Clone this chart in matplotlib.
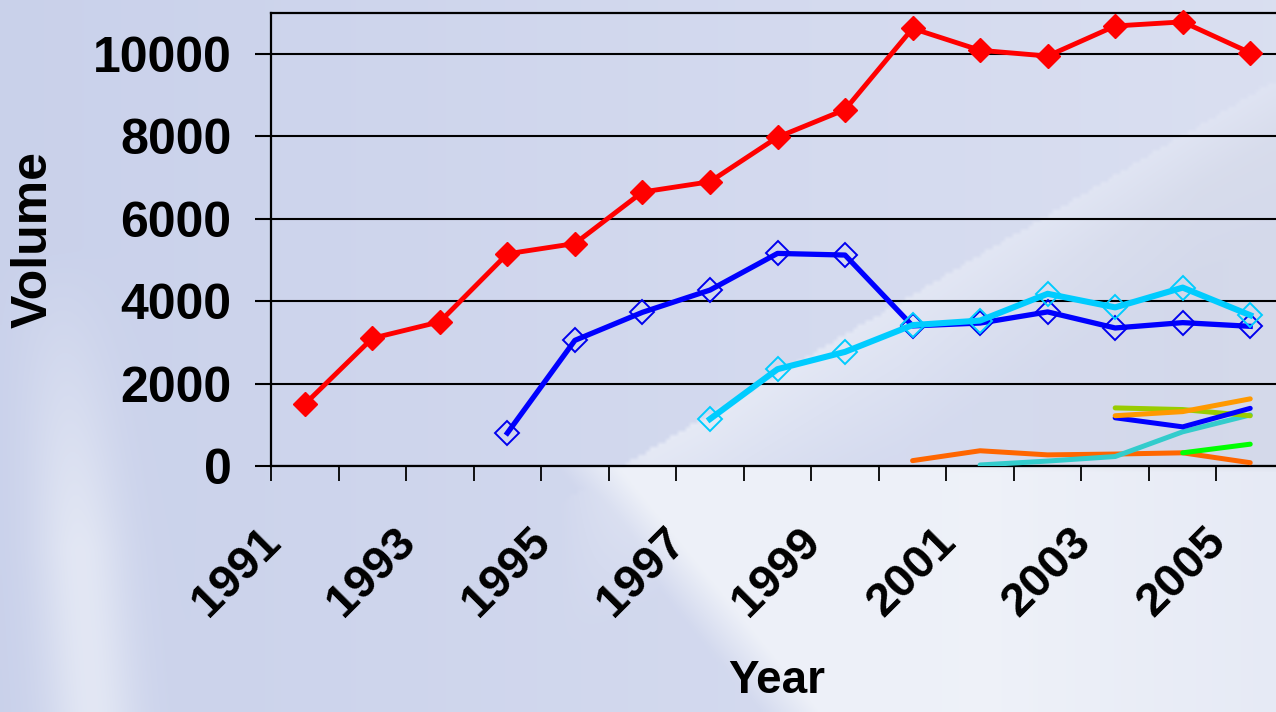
import numpy as np
import matplotlib
matplotlib.use("Agg")
import matplotlib.pyplot as plt
from matplotlib import transforms

nan = np.nan
years = list(range(1991, 2006))
y_ticks = [0, 2000, 4000, 6000, 8000, 10000]

series_red = [1500, 3100, 3500, 5150, 5400, 6650, 6900, 7980, 8650, 10620,
              10090, 9950, 10680, 10780, 10030]
series_blue = [nan, nan, nan, 800, 3050, 3730, 4270, 5160, 5120, 3400,
               3470, 3740, 3350, 3480, 3390]
series_sky = [nan, nan, nan, nan, nan, nan, 1140, 2350, 2770, 3420,
              3530, 4180, 3850, 4330, 3660]
series_orange_red = [nan] * 9 + [130, 370, 270, 290, 320, 80]
series_turquoise = [nan] * 10 + [25, 120, 230, 830, 1240]
series_yellowgreen = [nan] * 12 + [1410, 1370, 1220]
series_orange = [nan] * 12 + [1220, 1320, 1630]
series_blue2 = [nan] * 12 + [1170, 950, 1400]
series_green = [nan] * 13 + [320, 530]

plt.rcParams['font.family'] = ['Liberation Sans', 'DejaVu Sans']
plt.rcParams['font.weight'] = 'bold'

W, H = 1276, 712
fig = plt.figure(figsize=(W / 100, H / 100), dpi=100)

# ---- background (decorative gradient) ----
xs = np.linspace(0, W, 320)
ys = np.linspace(0, H, 180)
X, Y = np.meshgrid(xs, ys)
c_left = np.array([0.79, 0.82, 0.92])
c_right = np.array([0.855, 0.875, 0.945])
t = (X / W)[..., None]
img = c_left * (1 - t) + c_right * t
white = np.array([0.95, 0.96, 0.98])
# swoosh: light band below a diagonal edge (right part only)
line = 480 + (X - 600) * (-400 / 676)
d = Y - line
band = (np.clip(1 - d / 150, 0, 1) * (d > 0)
        * np.clip(1 - (X - 700) / 900, 0.15, 1) * np.clip((X - 560) / 90, 0, 1))
# bottom bright wedge
edge2 = 560 + (Y - 470) * 200 / 242
wedge = (X > edge2) * (Y > 468) * np.clip((X - edge2) / 60, 0, 1) * 0.85
wedge = wedge * np.clip(1 - (X - 1000) / 700, 0.5, 1)
# darker area below swoosh in upper right
dark = np.clip(d / 60, 0, 1) * (Y < 470) * np.clip((X - 900) / 300, 0, 1) * 0.5
# left pale curve
left = np.exp(-((X - 90 - (Y - 700) * 0.08) / 45) ** 2) * np.clip((Y - 250) / 300, 0, 1) * 0.6
light = np.clip(np.maximum.reduce([band * 0.6, wedge, left]), 0, 1)[..., None]
img = img * (1 - light) + white * light
img = img * (1 - 0.05 * dark[..., None])
bg = fig.add_axes([0, 0, 1, 1])
bg.imshow(img, extent=[0, W, H, 0], aspect='auto', interpolation='bilinear')
bg.axis('off')
bg.set_zorder(-10)

# ---- main axes ----
ax = fig.add_axes([271 / W, 1 - 466 / H, (1284 - 271) / W, (466 - 12.8) / H])
ax.patch.set_alpha(0)
x = np.arange(len(years))
ax.set_xlim(-0.5, len(years) - 0.5)
ax.set_ylim(0, 11000)
ax.set_yticks(y_ticks)
ax.set_yticklabels([str(v) for v in y_ticks], fontsize=36, fontweight='bold')
ax.yaxis.grid(True, color='black', lw=1.5)
ax.set_axisbelow(True)
for s in ax.spines.values():
    s.set_color('black')
    s.set_linewidth(1.6)
ax.set_xticks(np.arange(-0.5, len(years), 1))
ax.set_xticklabels([])
ax.tick_params(axis='x', direction='out', length=11, width=1.3, color='black')
ax.tick_params(axis='y', direction='out', length=11.5, width=1.5, pad=17, color='black')

blend = transforms.blended_transform_factory(ax.transData, ax.transAxes)
lab_tr = transforms.offset_copy(blend, fig=fig, x=-31, y=-69, units='dots')
for i in range(0, len(years), 2):
    ax.text(x[i], 0, str(years[i]), transform=lab_tr, rotation=45,
            rotation_mode='anchor', ha='right', va='center',
            fontsize=34, fontweight='bold', clip_on=False)

# bottom small series
ax.plot(x, series_orange_red, color='#FF6600', lw=3.6, solid_capstyle='round', zorder=3)
ax.plot(x, series_turquoise, color='#33CCCC', lw=3.6, solid_capstyle='round', zorder=3)
ax.plot(x, series_yellowgreen, color='#99CC00', lw=3.6, solid_capstyle='round', zorder=3)
ax.plot(x, series_blue2, color='#0000FF', lw=3.6, solid_capstyle='round', zorder=3)
ax.plot(x, series_orange, color='#FF9900', lw=3.6, solid_capstyle='round', zorder=3)
ax.plot(x, series_green, color='#00FF00', lw=3.6, solid_capstyle='round', zorder=3)

# main series
ax.plot(x, series_red, color='#FF0000', lw=3.5, marker='D', ms=12,
        mfc='#FF0000', mec='#FF0000', zorder=5, clip_on=False)
ax.plot(x, series_blue, color='#0000FF', lw=3.8, marker='D', ms=12,
        mfc='none', mec='#0000EE', mew=1.4, zorder=4)
ax.plot(x, series_sky, color='#00CCFF', lw=4.4, marker='D', ms=12,
        mfc='none', mec='#00CCFF', mew=1.4, zorder=4)

fig.text(34 / W, 1 - 240 / H, 'Volume', rotation=90, ha='center', va='center',
         fontsize=36, fontweight='bold')
fig.text(777 / W, 1 - 659 / H, 'Year', ha='center', va='top',
         fontsize=33, fontweight='bold')

fig.savefig('out.png', dpi=100)
